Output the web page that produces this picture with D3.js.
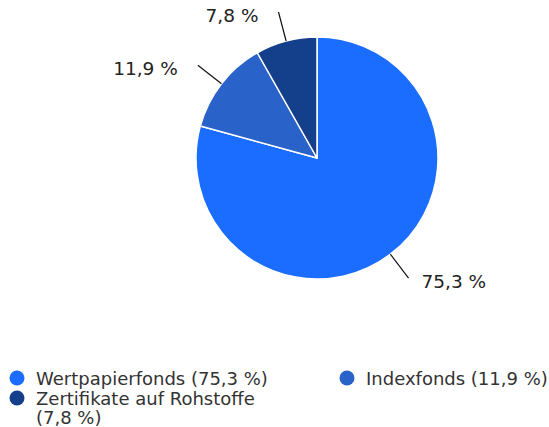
<!DOCTYPE html>
<html>
<head>
<meta charset="utf-8">
<script src="https://cdn.jsdelivr.net/npm/d3@7"></script>
<style>
  body { margin: 0; background: #fff; }
  text { font-family: "DejaVu Sans", sans-serif; }
</style>
</head>
<body>
<div id="vis"></div>
<script>
const WIDTH = 549;
const HEIGHT = 427;
const categories = ["Wertpapierfonds", "Indexfonds", "Zertifikate auf Rohstoffe"];
const values = [75.3, 11.9, 7.8];
const labels = ["75,3 %", "11,9 %", "7,8 %"];
const legendLabels = ["Wertpapierfonds (75,3 %)", "Indexfonds (11,9 %)", "Zertifikate auf Rohstoffe|(7,8 %)"];
const colors = ["#1a6dff", "#2962c8", "#143f8a"];

const CX = 317, CY = 158, R = 121;

const data = categories.map((c, i) => ({name: c, value: values[i], label: labels[i], legend: legendLabels[i], color: colors[i]}));

const svg = d3.select("#vis")
  .append("svg")
    .attr("width", WIDTH)
    .attr("height", HEIGHT);

const pie = d3.pie().sort(null).value(d => d.value);
const arc = d3.arc().innerRadius(0).outerRadius(R);
const arcs = pie(data);

const g = svg.append("g").attr("transform", "translate(" + CX + "," + CY + ")");

g.selectAll("path.slice")
  .data(arcs)
  .enter()
  .append("path")
    .attr("class", "slice")
    .attr("d", arc)
    .attr("fill", d => d.data.color)
    .attr("stroke", "#fff")
    .attr("stroke-width", 1.5)
    .attr("stroke-linejoin", "round");

// leader lines
function pt(a, r) { return [r * Math.sin(a), -r * Math.cos(a)]; }
const mid = d => (d.startAngle + d.endAngle) / 2;
g.selectAll("line.leader")
  .data(arcs)
  .enter()
  .append("line")
    .attr("class", "leader")
    .attr("x1", d => pt(mid(d), R)[0])
    .attr("y1", d => pt(mid(d), R)[1])
    .attr("x2", d => pt(mid(d), R + 30)[0])
    .attr("y2", d => pt(mid(d), R + 30)[1])
    .attr("stroke", "#111")
    .attr("stroke-width", 1.2);

g.selectAll("text.lbl")
  .data(arcs)
  .enter()
  .append("text")
    .attr("class", "lbl")
    .attr("x", d => {
      const p = pt(mid(d), R + 30);
      return p[0] + (p[0] >= 0 ? 13 : -20);
    })
    .attr("y", d => pt(mid(d), R + 30)[1] + 10)
    .attr("text-anchor", d => pt(mid(d), 1)[0] >= 0 ? "start" : "end")
    .attr("font-size", 18.5)
    .attr("fill", "#222")
    .text(d => d.data.label);

// legend
const legendPos = [[17, 378], [347, 378], [17, 398]];
const leg = svg.selectAll("g.leg")
  .data(data)
  .enter()
  .append("g")
    .attr("class", "leg")
    .attr("transform", (d, i) => "translate(" + legendPos[i][0] + "," + legendPos[i][1] + ")");
leg.append("circle")
  .attr("r", 7.5)
  .attr("fill", d => d.color);
const lt = leg.append("text")
  .attr("x", 19)
  .attr("y", 7)
  .attr("font-size", 18)
  .attr("fill", "#333");
lt.selectAll("tspan")
  .data(d => d.legend.split("|"))
  .enter()
  .append("tspan")
    .attr("x", 19)
    .attr("dy", (d, i) => i === 0 ? 0 : 19)
    .text(d => d);
</script>
</body>
</html>
